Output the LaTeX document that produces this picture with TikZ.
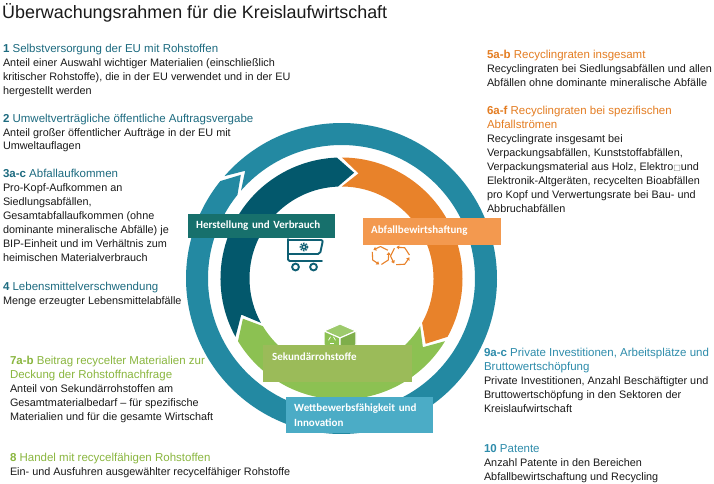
\documentclass[tikz,border=0pt]{standalone}
\usepackage{fontspec}
\setmainfont{Liberation Sans}
\newfontfamily\boxfnt{Carlito}
\newfontfamily\djv{DejaVu Sans}
\usetikzlibrary{arrows.meta}
\definecolor{ringblue}{HTML}{2389A2}
\definecolor{darkteal}{HTML}{03586C}
\definecolor{arrorange}{HTML}{E8822A}
\definecolor{arrgreen}{HTML}{8CC152}
\definecolor{boxteal}{HTML}{17706C}
\definecolor{boxorange}{HTML}{F3994F}
\definecolor{boxolive}{HTML}{9BBB59}
\definecolor{boxaqua}{HTML}{4BACC6}
\definecolor{headteal}{HTML}{1D6B80}
\definecolor{headblue}{HTML}{2E8CAB}
\definecolor{headorange}{HTML}{E47D22}
\definecolor{headgreen}{HTML}{8AB63F}
\definecolor{bodytext}{HTML}{1A1A1A}
\definecolor{carticon}{HTML}{0E5F73}
\newcommand\bodysz{\fontsize{10.85}{14}\selectfont}
\newcommand\headsz{\fontsize{11.5}{14}\selectfont}
\newcommand\hdl[3]{{\headsz\color{#1}\textbf{#2} #3}}
\newcommand\hdc[2]{{\headsz\color{#1}#2}}
\newcommand\arrowseg[7]{\fill[#1] (#2:#5) arc[start angle=#2, end angle=#3, radius=#5] -- ({#3-#7}:#6) -- (#3:#4) arc[start angle=#3, end angle=#2, radius=#4] -- ({#2-#7}:#6) -- cycle;}
\tikzset{
  blk/.style={anchor=base west, inner sep=0pt, outer sep=0pt, font=\bodysz, text=bodytext},
  lblbox/.style={anchor=north west, inner xsep=8pt, inner ysep=0pt, align=left, text=white,
     font=\boxfnt\bfseries\fontsize{11}{15}\selectfont},
  cart/.style={draw=carticon, line width=1.9pt, line join=round, line cap=round},
  recy/.style={draw=arrorange, line width=1.1pt, line join=round, -{Triangle[length=2.8pt,width=3.8pt]}},
  cubeedge/.style={draw=white, line width=1.1pt, line join=round}
}
\begin{document}
\begin{tikzpicture}[x=1pt, y=-1pt]
\useasboundingbox (0,0) rectangle (714,484);
\fill[white] (0,0) rectangle (714,484);

% ---- ring ----
\begin{scope}[shift={(341.5,278.5)}]
  \arrowseg{ringblue}{138.8}{-218.8}{133.5pt}{155.5pt}{144.5pt}{7}
  \arrowseg{darkteal}{208.8}{92.2}{92pt}{121pt}{106.5pt}{9}
  \arrowseg{arrorange}{89.8}{-28.8}{92pt}{121pt}{106.5pt}{9}
  \arrowseg{arrgreen}{-31.2}{-148.8}{92pt}{121pt}{106.5pt}{9}
\end{scope}

% ---- cart icon ----
\draw[cart, rounded corners=1.5pt] (288,239) -- (288,261) -- (322,261);
\draw[cart, rounded corners=2pt] (288,240) -- (323,240) -- (320,254) -- (288,254);
\draw[draw=carticon, line width=1.6pt, dash pattern=on 1.4pt off 1.2pt] (304,247) circle (3.6);
\fill[carticon] (304,247) circle (2.8);
\fill[white] (304,247) circle (1.1);
\draw[cart, fill=white] (295.5,267) circle (3.4);
\draw[cart, fill=white] (313.5,267) circle (3.4);

% ---- recycle icon ----
\begin{scope}[shift={(380.5,255.5)}]
  \foreach \a in {30,150,270} \draw[recy] (\a+6:9pt) -- (\a+60:9pt) -- (\a+112:9pt);
\end{scope}
\begin{scope}[shift={(400,256)}]
  \foreach \a in {0,120,240} \draw[recy] (\a+6:9.5pt) -- (\a+60:9.5pt) -- (\a+112:9.5pt);
\end{scope}

% ---- cube icon ----
\filldraw[cubeedge, fill=arrgreen!85!white] (324,331) -- (340,324) -- (356,331) -- (340,338) -- cycle;
\filldraw[cubeedge, fill=arrgreen] (324,331) -- (340,338) -- (340,352) -- (324,345) -- cycle;
\filldraw[cubeedge, fill=arrgreen!90!black] (340,338) -- (356,331) -- (356,345) -- (340,352) -- cycle;
\begin{scope}[shift={(332,340)}]
  \foreach \a in {90,210,330} \draw[white, line width=0.7pt] (\a+25:3.5pt) -- (\a+95:3.5pt);
\end{scope}

% ---- labelled boxes ----
\node[lblbox, fill=boxteal, text width=131pt, text height=14.5pt, text depth=9.5pt] (herst) at (188,214) {Herstellung und Verbrauch};
\node[lblbox, fill=boxorange, text width=122pt, text height=15.5pt, text depth=11.5pt] (abfall) at (363,218) {Abfallbewirtshaftung};
\node[lblbox, fill=boxolive, inner xsep=9pt, text width=131pt, text height=15.5pt, text depth=21.5pt] (sekund) at (263,345) {Sekundärrohstoffe};
\node[lblbox, fill=boxaqua, text width=131pt, text height=14.5pt, text depth=21.5pt] (wettb) at (286,397) {Wettbewerbsfähigkeit und\\Innovation};

% ---- title ----
\node[anchor=base west, inner sep=0pt, font=\fontsize{17.9}{20}\selectfont, text=bodytext] (title) at (2,18.5) {Überwachungsrahmen für die Kreislaufwirtschaft};

% ---- left column ----
\node[blk] (t1) at (3,53) {\begin{tabular}[t]{@{}l@{}}\hdl{headteal}{1}{Selbstversorgung der EU mit Rohstoffen}\\Anteil einer Auswahl wichtiger Materialien (einschließlich\\kritischer Rohstoffe), die in der EU verwendet und in der EU\\hergestellt werden\end{tabular}};
\node[blk] (t2) at (3,122) {\begin{tabular}[t]{@{}l@{}}\hdl{headteal}{2}{Umweltverträgliche öffentliche Auftragsvergabe}\\Anteil großer öffentlicher Aufträge in der EU mit\\Umweltauflagen\end{tabular}};
\node[blk] (t3) at (3,177) {\begin{tabular}[t]{@{}l@{}}\hdl{headteal}{3a-c}{Abfallaufkommen}\\Pro-Kopf-Aufkommen an\\Siedlungsabfällen,\\Gesamtabfallaufkommen (ohne\\dominante mineralische Abfälle) je\\BIP-Einheit und im Verhältnis zum\\heimischen Materialverbrauch\end{tabular}};
\node[blk] (t4) at (3,290) {\begin{tabular}[t]{@{}l@{}}\hdl{headteal}{4}{Lebensmittelverschwendung}\\Menge erzeugter Lebensmittelabfälle\end{tabular}};
\node[blk] (t7) at (10,364) {\begin{tabular}[t]{@{}l@{}}\hdl{headgreen}{7a-b}{Beitrag recycelter Materialien zur}\\\hdc{headgreen}{Deckung der Rohstoffnachfrage}\\Anteil von Sekundärrohstoffen am\\Gesamtmaterialbedarf – für spezifische\\Materialien und für die gesamte Wirtschaft\end{tabular}};
\node[blk] (t8) at (10,461) {\begin{tabular}[t]{@{}l@{}}\hdl{headgreen}{8}{Handel mit recycelfähigen Rohstoffen}\\Ein- und Ausfuhren ausgewählter recycelfähiger Rohstoffe\end{tabular}};

% ---- right column ----
\node[blk] (t5) at (487,59) {\begin{tabular}[t]{@{}l@{}}\hdl{headorange}{5a-b}{Recyclingraten insgesamt}\\Recyclingraten bei Siedlungsabfällen und allen\\Abfällen ohne dominante mineralische Abfälle\end{tabular}};
\node[blk] (t6) at (487,114) {\begin{tabular}[t]{@{}l@{}}\hdl{headorange}{6a-f}{Recyclingraten bei spezifischen}\\\hdc{headorange}{Abfallströmen}\\Recyclingrate insgesamt bei\\Verpackungsabfällen, Kunststoffabfällen,\\Verpackungsmaterial aus Holz, Elektro{\djv\fontsize{8}{14}\selectfont\color{gray}□}und\\Elektronik-Altgeräten, recycelten Bioabfällen\\pro Kopf und Verwertungsrate bei Bau- und\\Abbruchabfällen\end{tabular}};
\node[blk] (t9) at (484,356) {\begin{tabular}[t]{@{}l@{}}\hdl{headblue}{9a-c}{Private Investitionen, Arbeitsplätze und}\\\hdc{headblue}{Bruttowertschöpfung}\\Private Investitionen, Anzahl Beschäftigter und\\Bruttowertschöpfung in den Sektoren der\\Kreislaufwirtschaft\end{tabular}};
\node[blk] (t10) at (484,452) {\begin{tabular}[t]{@{}l@{}}\hdl{headblue}{10}{Patente}\\Anzahl Patente in den Bereichen\\Abfallbewirtschaftung und Recycling\end{tabular}};
\end{tikzpicture}
\end{document}
